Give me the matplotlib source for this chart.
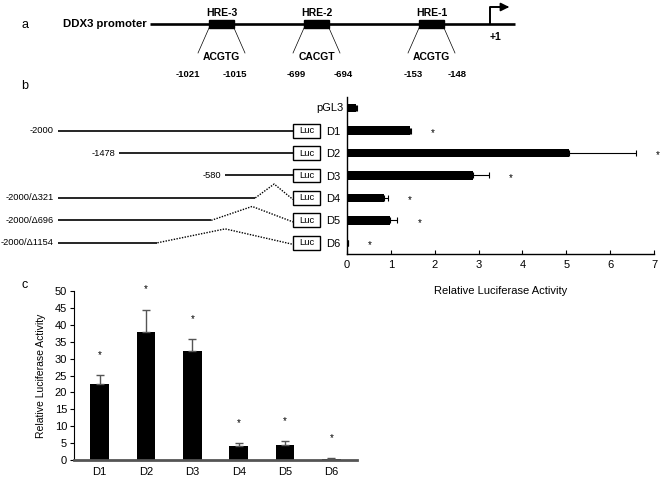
import matplotlib
matplotlib.use("Agg")
import matplotlib.pyplot as plt
import numpy as np
from matplotlib.patches import Rectangle

plt.rcParams['font.family'] = ['Liberation Sans', 'DejaVu Sans']

# ---------------- data ----------------
# panel a : HRE sites in the DDX3 promoter
hre_names = ['HRE-3', 'HRE-2', 'HRE-1']
hre_seqs = ['ACGTG', 'CACGT', 'ACGTG']
hre_start = ['-1021', '-699', '-153']
hre_end = ['-1015', '-694', '-148']

# panel b : constructs and luciferase activity
b_labels = ['pGL3', 'D1', 'D2', 'D3', 'D4', 'D5', 'D6']
b_values = [0.2, 1.44, 5.06, 2.87, 0.84, 0.98, 0.02]
b_errors = [0.03, 0.01, 1.52, 0.37, 0.10, 0.17, 0.0]
construct_start = [-2000, -1478, -580, -2000, -2000, -2000]
construct_deletion = [0, 0, 0, 321, 696, 1154]
construct_names = ['-2000', '-1478', '-580', '-2000/\u0394321', '-2000/\u0394696', '-2000/\u03941154']

# panel c : luciferase activity
c_labels = ['D1', 'D2', 'D3', 'D4', 'D5', 'D6']
c_values = [22.6, 37.8, 32.3, 4.1, 4.4, 0.3]
c_errors = [2.5, 6.7, 3.4, 0.8, 1.1, 0.3]

# ---------------- layout ----------------
W, H = 661, 479
fig = plt.figure(figsize=(W / 100, H / 100), dpi=100)


def fr(x0, y0, x1, y1):
    return [x0 / W, 1 - y1 / H, (x1 - x0) / W, (y1 - y0) / H]


ax0 = fig.add_axes([0, 0, 1, 1])
ax0.set_xlim(0, W)
ax0.set_ylim(H, 0)
ax0.axis('off')

for lab, (x, y) in zip(['a', 'b', 'c'], [(25, 25), (25, 86), (25, 285)]):
    ax0.text(x, y, lab, fontsize=9, ha='center', va='center')

# panel a schematic
line_y = 24
ax0.text(147, line_y, 'DDX3 promoter', fontsize=8.2, fontweight='bold', ha='right', va='center')
ax0.plot([150, 515], [line_y, line_y], color='black', lw=1.9, solid_capstyle='butt')
box_x0 = [209, 304, 419]
box_w = 25
num_off_l = [-21, -8, -6]
num_off_r = [1, 14, 13]
for i in range(3):
    x0 = box_x0[i]
    x1 = x0 + box_w
    ax0.add_patch(Rectangle((x0, line_y - 4), box_w, 8, color='black', zorder=3))
    ax0.text((x0 + x1) / 2, line_y - 11, hre_names[i], fontsize=7.5, fontweight='bold', ha='center', va='center')
    ax0.plot([x0, x0 - 11], [line_y + 4, line_y + 29], color='black', lw=0.5)
    ax0.plot([x1, x1 + 11], [line_y + 4, line_y + 29], color='black', lw=0.5)
    ax0.text((x0 + x1) / 2, line_y + 33, hre_seqs[i], fontsize=7.5, fontweight='bold', ha='center', va='center')
    ax0.text(x0 + num_off_l[i], line_y + 50, hre_start[i], fontsize=6.8, fontweight='bold', ha='center', va='center')
    ax0.text(x1 + num_off_r[i], line_y + 50, hre_end[i], fontsize=6.8, fontweight='bold', ha='center', va='center')
# transcription start arrow
ax0.plot([490, 490, 505], [line_y, line_y - 17, line_y - 17], color='black', lw=1.4, solid_capstyle='butt')
ax0.annotate('', xy=(512, line_y - 17), xytext=(503, line_y - 17),
             arrowprops=dict(arrowstyle='-|>,head_length=0.5,head_width=0.25', color='black', lw=1.2))
ax0.text(496, line_y + 13, '+1', fontsize=7.5, fontweight='bold', ha='center', va='center')

# ---------------- panel b ----------------
px_per_bp = 0.1175
zero_px = 293
ax_top, ax_bot = 97, 254
ax_d = fig.add_axes(fr(0, ax_top, 347, ax_bot))
ax_d.set_xlim(-zero_px / px_per_bp, (347 - zero_px) / px_per_bp)
ax_d.set_ylim(6.5, -0.5)
ax_d.axis('off')
luc_w = 27 / px_per_bp
for i in range(6):
    y = i + 1
    start = construct_start[i]
    dele = construct_deletion[i]
    solid_end = -dele if dele else 0
    ax_d.plot([start, solid_end], [y, y], color='black', lw=1.2, solid_capstyle='butt')
    if dele:
        mid = solid_end / 2
        ax_d.plot([solid_end, mid, 0], [y, y - 0.62, y + 0.07], color='black', lw=1.0,
                  linestyle=(0, (1, 1)))
    ax_d.text(start - 35, y, construct_names[i], fontsize=6.7, ha='right', va='center')
    ax_d.add_patch(Rectangle((0, y - 0.31), luc_w, 0.62, facecolor='white', edgecolor='black', lw=1.0, zorder=3))
    ax_d.text(luc_w / 2, y, 'Luc', fontsize=6.8, ha='center', va='center', zorder=4)
    ax_d.text(luc_w + 6 / px_per_bp, y + 0.05, b_labels[i + 1], fontsize=8, ha='left', va='center')
ax_d.text((344 - zero_px) / px_per_bp, 0, b_labels[0], fontsize=8, ha='right', va='center')

ax_b = fig.add_axes(fr(347, ax_top, 654, ax_bot))
yy = np.arange(len(b_labels))
ax_b.barh(yy, b_values, height=0.38, color='black',
          xerr=[np.zeros(len(b_errors)), b_errors],
          error_kw=dict(ecolor='black', elinewidth=0.8, capsize=2, capthick=0.8))
for i in range(1, len(b_values)):
    ax_b.text(b_values[i] + b_errors[i] + 0.5, yy[i] + 0.1, '*', fontsize=7, ha='center', va='center',
              clip_on=False)
ax_b.set_xlim(0, 7)
ax_b.set_ylim(6.5, -0.5)
ax_b.set_yticks([])
ax_b.set_xticks(range(8))
ax_b.tick_params(axis='x', direction='in', length=3, labelsize=8, pad=4)
for s in ['top', 'right']:
    ax_b.spines[s].set_visible(False)
for s in ['left', 'bottom']:
    ax_b.spines[s].set_linewidth(1.0)
ax_b.set_xlabel('Relative Luciferase Activity', fontsize=8, labelpad=12)

# ---------------- panel c ----------------
ax_c = fig.add_axes(fr(74, 291, 357, 460))
xx = np.arange(len(c_labels))
ax_c.bar(xx, c_values, width=0.4, color='black',
         yerr=[np.zeros(len(c_errors)), c_errors],
         error_kw=dict(ecolor='#555555', elinewidth=1.0, capsize=3, capthick=1.0))
for i in range(len(c_values)):
    ax_c.text(xx[i], c_values[i] + c_errors[i] + 6, '*', fontsize=7, ha='center', va='center', clip_on=False)
ax_c.set_xlim(-0.55, 5.55)
ax_c.set_ylim(0, 50)
ax_c.set_yticks(range(0, 51, 5))
ax_c.set_xticks(xx)
ax_c.set_xticklabels(c_labels)
ax_c.tick_params(axis='y', direction='out', length=3, labelsize=8, pad=2)
ax_c.tick_params(axis='x', length=0, labelsize=8, pad=5)
for s in ['top', 'right']:
    ax_c.spines[s].set_visible(False)
ax_c.spines['left'].set_linewidth(0.8)
ax_c.spines['bottom'].set_linewidth(2.0)
ax_c.spines['bottom'].set_color('#555555')
ax_c.set_ylabel('Relative Luciferase Activity', fontsize=7.5, labelpad=6)

fig.savefig('out.png', dpi=100)
